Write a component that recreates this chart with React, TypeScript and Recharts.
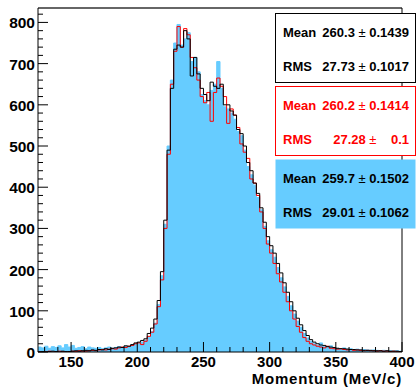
import React from "react";
import { Area, ComposedChart, Line, ReferenceLine, XAxis, YAxis } from "recharts";

// histogram binning (MeV/c)
const binLow = 125;
const binWidth = 2.5;

const blueCounts = [
  12, 10, 14, 9, 13, 11, 15, 10, 18, 12, 16, 9, 11, 13, 8, 12, 10, 9, 11, 8, 10, 12, 9, 11, 13, 10, 14, 12, 16, 18,
  20, 24, 28, 36, 50, 70, 115, 185, 310, 500, 660, 750, 795, 745, 760, 775, 705, 715, 680, 625,
  610, 600, 635, 650, 705, 640, 595, 590, 580, 565, 535, 525, 490, 450, 430, 405, 375, 345, 305, 270,
  248, 230, 205, 180, 158, 135, 112, 92, 75, 60, 45, 34, 26, 20, 16, 22, 14, 12, 15, 10,
  9, 8, 10, 7, 8, 6, 7, 5, 6, 5, 4, 5, 4, 3, 4, 3, 3, 2, 3, 2,
];

const redCounts = [
  1, 0, 1, 2, 0, 1, 2, 1, 0, 1, 2, 1, 3, 2, 2, 3, 4, 3, 5, 6, 5, 7, 8, 7, 10, 12, 11, 14, 16, 20,
  22, 18, 26, 38, 48, 68, 110, 175, 300, 480, 650, 730, 790, 740, 785, 770, 715, 690, 660, 620,
  605, 630, 560, 630, 665, 645, 620, 555, 590, 575, 545, 505, 485, 470, 420, 410, 380, 340, 300, 262,
  240, 215, 190, 170, 145, 122, 100, 80, 62, 48, 35, 26, 20, 17, 14, 12, 10, 14, 9, 8,
  7, 8, 6, 5, 6, 4, 5, 4, 3, 4, 3, 3, 2, 3, 2, 2, 1, 2, 1, 1,
];

const blackCounts = [
  0, 1, 0, 1, 2, 1, 0, 2, 1, 1, 2, 3, 2, 3, 4, 3, 5, 4, 6, 5, 8, 6, 9, 10, 12, 11, 15, 14, 18, 22,
  24, 28, 32, 45, 58, 80, 125, 195, 320, 490, 640, 735, 745, 740, 780, 760, 670, 715, 675, 640,
  625, 610, 655, 645, 640, 650, 600, 600, 585, 575, 540, 530, 500, 460, 440, 410, 385, 350, 315, 280,
  258, 240, 215, 192, 168, 145, 122, 100, 82, 66, 52, 40, 30, 24, 20, 17, 16, 13, 12, 11,
  9, 8, 8, 7, 6, 6, 5, 5, 4, 4, 4, 3, 3, 3, 2, 3, 2, 2, 2, 1,
];

const xMajorTicks = [150, 200, 250, 300, 350, 400];
const yMajorTicks = [0, 100, 200, 300, 400, 500, 600, 700, 800];
const xMinorStep = 10;
const yMinorStep = 20;

const statBoxes = [
  { color: "#000000", fill: "#ffffff", mean: "260.3", meanErr: "0.1439", rms: "27.73", rmsErr: "0.1017" },
  { color: "#ff0000", fill: "#ffffff", mean: "260.2", meanErr: "0.1414", rms: "27.28", rmsErr: "   0.1" },
  { color: "#000000", fill: "#66ccff", mean: "259.7", meanErr: "0.1502", rms: "29.01", rmsErr: "0.1062" },
];

const xMin = 125;
const xMax = 400;
const yMax = 835;

// bin edges with step-after, last edge closes the final bin
const data = blueCounts.map((b, i) => ({
  x: binLow + i * binWidth,
  blue: b,
  red: redCounts[i],
  black: blackCounts[i],
}));
data.push({
  x: binLow + blueCounts.length * binWidth,
  blue: blueCounts[blueCounts.length - 1],
  red: redCounts[redCounts.length - 1],
  black: blackCounts[blackCounts.length - 1],
});

const xTicks: number[] = [];
for (let v = 130; v <= xMax; v += xMinorStep) xTicks.push(v);
const yTicks: number[] = [];
for (let v = 0; v <= 820; v += yMinorStep) yTicks.push(v);

const font = "'Liberation Sans', Arial, Helvetica, sans-serif";

function XTick(props: any) {
  const { x, y, payload } = props;
  const major = xMajorTicks.includes(payload.value);
  return (
    <g>
      <line x1={x} x2={x} y1={y} y2={y - (major ? 10 : 5)} stroke="#000" strokeWidth={1} />
      {major && (
        <text x={x} y={y + 15} textAnchor="middle" fontFamily={font} fontWeight="bold" fontSize={15} fill="#000">
          {payload.value}
        </text>
      )}
    </g>
  );
}

function YTick(props: any) {
  const { x, y, payload } = props;
  const major = yMajorTicks.includes(payload.value);
  return (
    <g>
      <line x1={x} x2={x + (major ? 10 : 5)} y1={y} y2={y} stroke="#000" strokeWidth={1} />
      {major && (
        <text x={x - 3} y={y + 6} textAnchor="end" fontFamily={font} fontWeight="bold" fontSize={15.5} fill="#000">
          {payload.value}
        </text>
      )}
    </g>
  );
}

function StatBox({ box, top }: { box: (typeof statBoxes)[number]; top: number }) {
  const filled = box.fill !== "#ffffff";
  return (
    <g fontFamily={font} fontSize={13} fontWeight="bold" fill={box.color}>
      <rect
        x={275.5}
        y={top + 0.5}
        width={140}
        height={69}
        fill={box.fill}
        stroke={filled ? "none" : box.color}
        strokeWidth={1}
      />
      <text x={283} y={top + 24}>Mean</text>
      <text x={409} y={top + 24} textAnchor="end" style={{ whiteSpace: "pre" }}>
        {box.mean + " "}
        <tspan fontWeight="normal">±</tspan>
        {" " + box.meanErr}
      </text>
      <text x={283} y={top + 58}>RMS</text>
      <text x={409} y={top + 58} textAnchor="end" style={{ whiteSpace: "pre" }}>
        {box.rms + " "}
        <tspan fontWeight="normal">±</tspan>
        {" " + box.rmsErr}
      </text>
    </g>
  );
}

export default function App() {
  return (
    <div style={{ position: "absolute", left: 0, top: 0, width: 416, height: 388, background: "#fff" }}>
      <ComposedChart width={416} height={388} data={data} margin={{ top: 8, right: 14, bottom: 0, left: 0 }}>
        <XAxis
          dataKey="x"
          type="number"
          domain={[xMin, xMax]}
          ticks={xTicks}
          interval={0}
          tickSize={0}
          tickMargin={0}
          tickLine={false}
          tick={<XTick />}
          height={36}
          axisLine={{ stroke: "#000" }}
          allowDataOverflow
        />
        <YAxis
          type="number"
          domain={[0, yMax]}
          ticks={yTicks}
          interval={0}
          tickSize={0}
          tickMargin={0}
          tickLine={false}
          tick={<YTick />}
          width={38}
          axisLine={{ stroke: "#000" }}
          allowDataOverflow
        />
        <Area
          dataKey="blue"
          type="stepAfter"
          fill="#66ccff"
          fillOpacity={1}
          stroke="#66ccff"
          strokeWidth={1}
          isAnimationActive={false}
        />
        <Line dataKey="red" type="stepAfter" stroke="#ff0000" strokeWidth={1} dot={false} isAnimationActive={false} />
        <Line dataKey="black" type="stepAfter" stroke="#000000" strokeWidth={1} dot={false} isAnimationActive={false} />
        <ReferenceLine y={yMax} stroke="#333" strokeWidth={1.5} />
        <ReferenceLine x={xMax} stroke="#000" strokeWidth={1} />
      </ComposedChart>
      <svg width={416} height={388} style={{ position: "absolute", left: 0, top: 0, pointerEvents: "none" }}>
        {statBoxes.map((box, i) => (
          <StatBox key={i} box={box} top={13 + i * 73} />
        ))}
        <text
          x={402}
          y={384}
          textAnchor="end"
          fontFamily={font}
          fontWeight="bold"
          fontSize={15}
          letterSpacing={0.8}
          fill="#000"
        >
          Momentum (MeV/c)
        </text>
      </svg>
    </div>
  );
}
